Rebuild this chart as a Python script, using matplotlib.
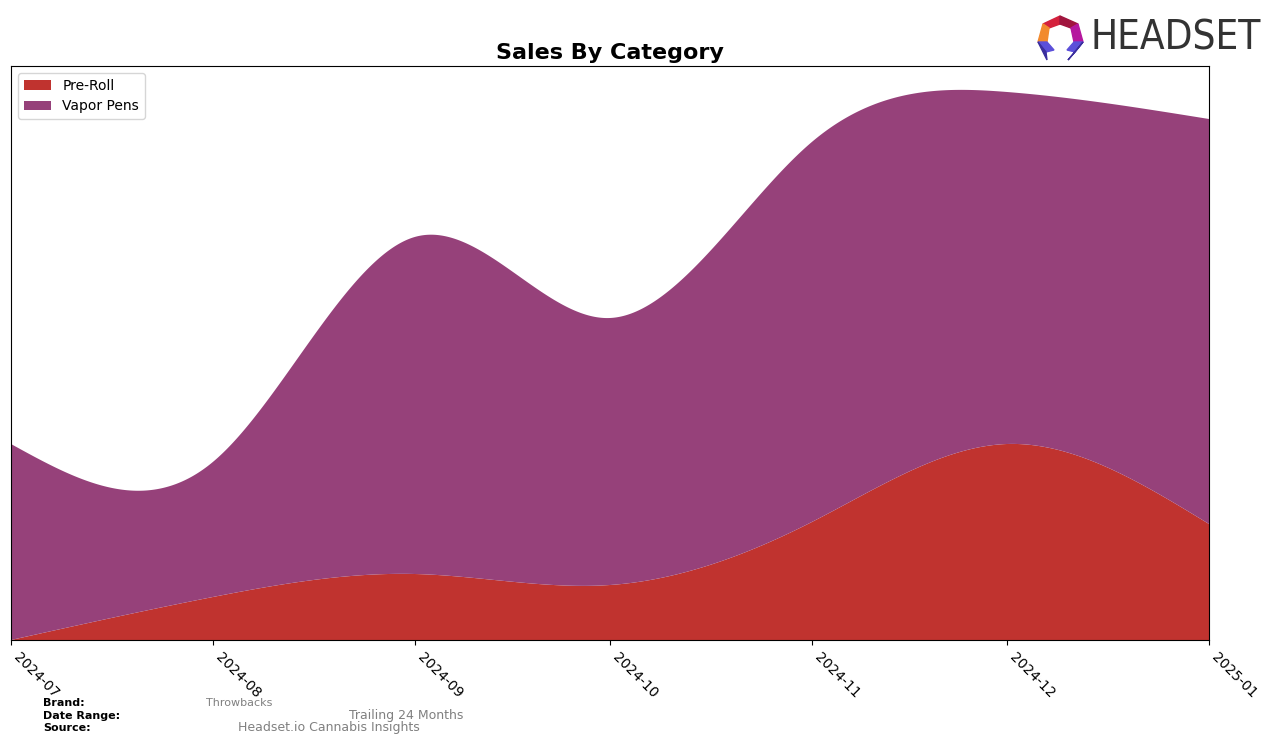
import numpy as np
import matplotlib
matplotlib.use("Agg")
import matplotlib.pyplot as plt
import matplotlib.dates as mdates
from matplotlib.patches import Polygon
import datetime as dt

# ---- data ----
months = ["2024-07", "2024-08", "2024-09", "2024-10", "2024-11", "2024-12", "2025-01"]
pre_roll = [0, 43, 66, 55, 118, 196, 116]
vapor_pens = [196, 135, 337, 267, 380, 352, 405]
categories = ["Pre-Roll", "Vapor Pens"]
colors = ["#C0332F", "#96417A"]


def natural_spline(x, y, xs):
    x = np.asarray(x, float); y = np.asarray(y, float)
    n = len(x)
    h = np.diff(x)
    A = np.zeros((n, n)); b = np.zeros(n)
    A[0, 0] = 1; A[-1, -1] = 1
    for i in range(1, n - 1):
        A[i, i - 1] = h[i - 1]
        A[i, i] = 2 * (h[i - 1] + h[i])
        A[i, i + 1] = h[i]
        b[i] = 6 * ((y[i + 1] - y[i]) / h[i] - (y[i] - y[i - 1]) / h[i - 1])
    M = np.linalg.solve(A, b)
    idx = np.clip(np.searchsorted(x, xs) - 1, 0, n - 2)
    x0 = x[idx]; x1 = x[idx + 1]; hh = x1 - x0
    t0 = x1 - xs; t1 = xs - x0
    return (M[idx] * t0 ** 3 / (6 * hh) + M[idx + 1] * t1 ** 3 / (6 * hh)
            + (y[idx] / hh - M[idx] * hh / 6) * t0 + (y[idx + 1] / hh - M[idx + 1] * hh / 6) * t1)


dates = [dt.datetime.strptime(m, "%Y-%m") for m in months]
xnum = mdates.date2num(dates)
xs = np.linspace(xnum[0], xnum[-1], 600)
ys_pre = np.clip(natural_spline(xnum, pre_roll, xs), 0, None)
ys_vap = natural_spline(xnum, vapor_pens, xs)

fig = plt.figure(figsize=(12.76, 7.45), dpi=100)
ax = fig.add_axes([11 / 1276, 105 / 745, (1209 - 11) / 1276, (640 - 66) / 745])
ax.stackplot(mdates.num2date(xs), ys_pre, ys_vap, labels=categories, colors=colors)
ax.set_xlim(xnum[0], xnum[-1])
ax.set_ylim(0, 574)
ax.set_yticks([])
ax.xaxis.set_major_locator(mdates.MonthLocator())
ax.xaxis.set_major_formatter(mdates.DateFormatter("%Y-%m"))
plt.setp(ax.get_xticklabels(), rotation=-45, ha="left", fontsize=10)
ax.set_title("Sales By Category", fontsize=16, fontweight="bold", pad=5)
ax.legend(loc="upper left", fontsize=10, frameon=True)

# footer
fig.text(43 / 1276, 1 - 703 / 745, "Brand:", fontsize=8, fontweight="bold", va="center")
fig.text(43 / 1276, 1 - 716 / 745, "Date Range:", fontsize=8, fontweight="bold", va="center")
fig.text(43 / 1276, 1 - 728 / 745, "Source:", fontsize=8, fontweight="bold", va="center")
fig.text(239 / 1276, 1 - 703 / 745, "Throwbacks", fontsize=8, color="#808080", va="center", ha="center")
fig.text(406 / 1276, 1 - 716 / 745, "Trailing 24 Months", fontsize=9, color="#808080", va="center", ha="center")
fig.text(329 / 1276, 1 - 728 / 745, "Headset.io Cannabis Insights", fontsize=9, color="#808080", va="center", ha="center")

# logo
def fp(pts, c):
    fig.patches.append(Polygon([(x / 1276, 1 - y / 745) for x, y in pts], closed=True,
                               transform=fig.transFigure, color=c))

fp([(1043, 24), (1060, 16), (1060, 24), (1049, 28)], "#D4213D")
fp([(1060, 16), (1078, 24), (1071, 28), (1060, 24)], "#A0153E")
fp([(1043, 24), (1049, 28), (1047, 42), (1038, 42)], "#F28A2E")
fp([(1078, 24), (1083, 42), (1074, 42), (1071, 28)], "#B5179E")
fp([(1038, 42), (1047, 42), (1054, 50), (1046, 52)], "#5B4FD9")
fp([(1038, 42), (1046, 52), (1047, 60)], "#3A2E9E")
fp([(1083, 42), (1074, 42), (1067, 50), (1075, 52)], "#5B4FD9")
fp([(1083, 42), (1075, 52), (1068, 60)], "#3A2E9E")
fig.text(1090 / 1276, 1 - 38 / 745, "HEADSET", fontsize=29, color="#333333", va="center",
         ha="left", family="DejaVu Sans", fontstretch="condensed")

fig.savefig("out.png", dpi=100)
